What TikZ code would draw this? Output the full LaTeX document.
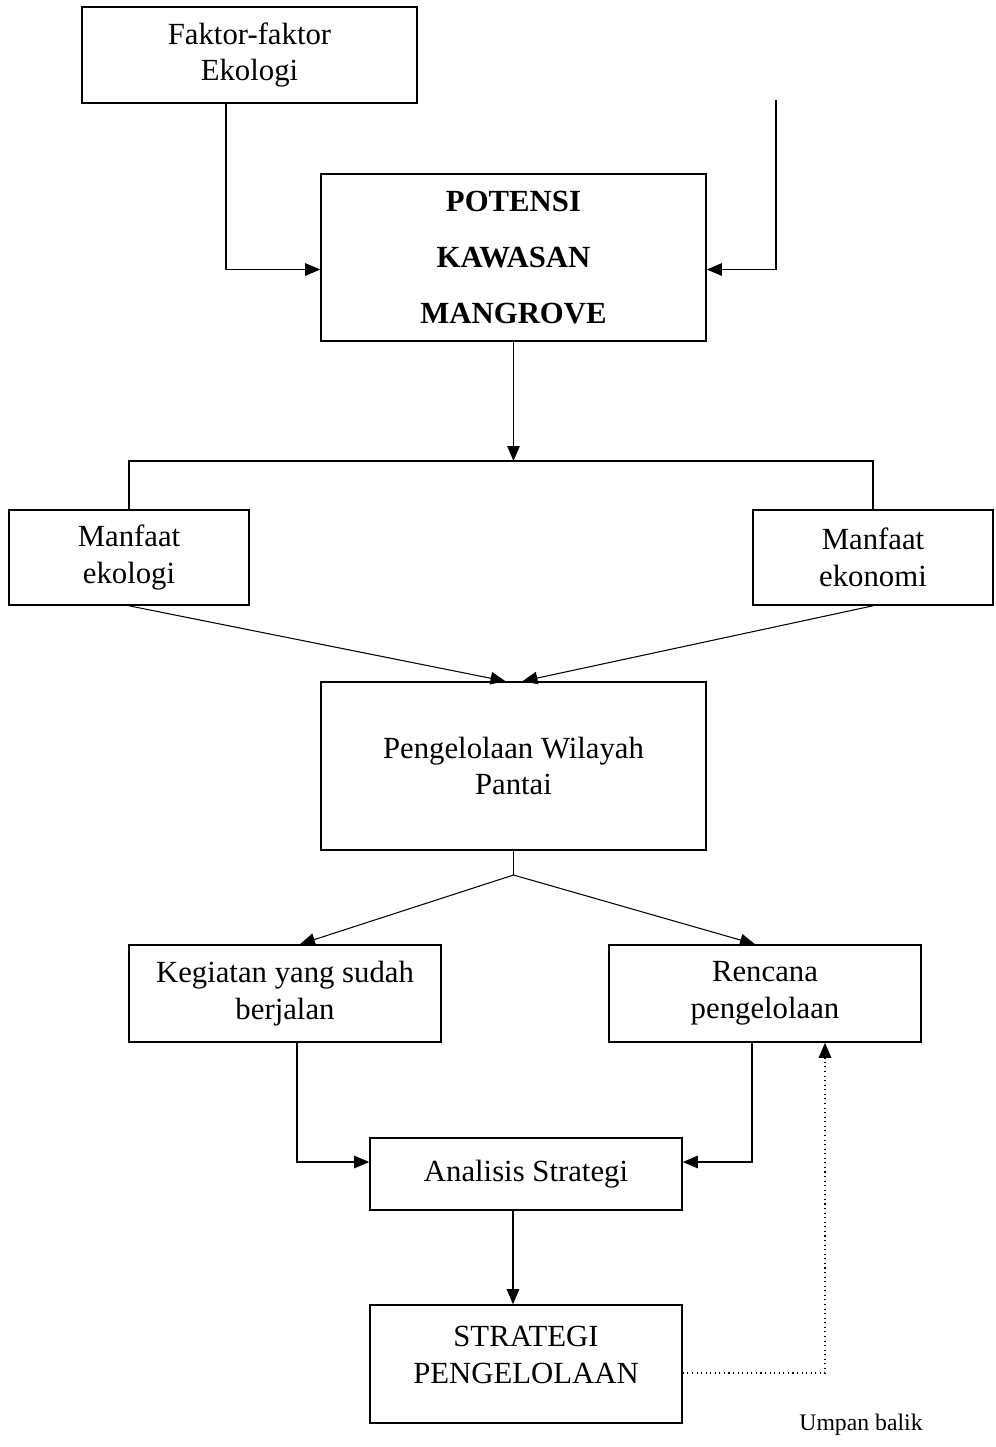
\documentclass[tikz,border=0pt]{standalone}
\usepackage{fontspec}
\setmainfont{Liberation Serif}
\usepackage{tikz}
\usetikzlibrary{arrows.meta, positioning}

\begin{document}
\begin{tikzpicture}[
  box/.style={draw=black, line width=0.9pt, fill=white, align=center,
              inner sep=0pt, font=\fontsize{17.5}{21}\selectfont},
  boldbox/.style={box, font=\fontsize{17.5}{32}\selectfont\bfseries},
  arr/.style={-{Triangle[length=0.3cm, width=0.25cm]}, line width=0.6pt},
  line/.style={line width=0.6pt},
  fb/.style={-{Triangle[length=0.3cm, width=0.25cm]}, line width=0.6pt, dotted}
]
  \useasboundingbox (0,0) rectangle (19.92,-28.94);

  \node[box, minimum width=6.7cm, minimum height=1.92cm]     (faktor)  at (4.99,-1.10)  {Faktor-faktor\\Ekologi};
  \node[boldbox, minimum width=7.7cm, minimum height=3.34cm] (potensi) at (10.27,-5.15) {POTENSI\\KAWASAN\\MANGROVE};

  \node[box, minimum width=4.8cm, minimum height=1.9cm]      (ekologi) at (2.58,-11.15) {Manfaat\\ekologi};
  \node[box, minimum width=4.8cm, minimum height=1.9cm]      (ekonomi) at (17.46,-11.15) {Manfaat\\ekonomi};

  \node[box, minimum width=7.7cm, minimum height=3.36cm]     (pantai)  at (10.27,-15.32) {Pengelolaan Wilayah\\Pantai};

  \node[box, minimum width=6.24cm, minimum height=1.94cm]    (kegiatan) at (5.70,-19.87) {Kegiatan yang sudah\\berjalan};
  \node[box, minimum width=6.24cm, minimum height=1.94cm]    (rencana)  at (15.30,-19.87) {Rencana\\pengelolaan};

  \node[box, minimum width=6.24cm, minimum height=1.44cm]    (analisis) at (10.52,-23.48) {Analisis Strategi};
  \node[box, minimum width=6.24cm, minimum height=2.36cm]    (strategi) at (10.52,-27.28) {STRATEGI\\PENGELOLAAN\\[-0.38cm]\mbox{}};

  \node[font=\fontsize{13.5}{16}\selectfont, anchor=base] (umpan) at (17.22,-28.60) {Umpan balik};

  \coordinate (masuk)  at (15.52,-2.00);
  \coordinate (cabang) at (10.27,-9.22);
  \coordinate (bagi)   at (10.27,-17.50);

  % input ke potensi
  \draw[arr] ([xshift=-0.47cm]faktor.south) |- ([yshift=-0.24cm]potensi.west);
  \draw[arr] (masuk) |- ([yshift=-0.24cm]potensi.east);

  % potensi ke manfaat
  \draw[arr] (potensi.south) -- (cabang);
  \draw[line] (ekologi.north) |- (cabang) -| (ekonomi.north);

  \draw[arr] (ekologi.south) -- ([xshift=-0.16cm]pantai.north);
  \draw[arr] (ekonomi.south) -- ([xshift=0.18cm]pantai.north);

  % pengelolaan
  \draw[line] (pantai.south) -- (bagi);
  \draw[arr] (bagi) -- ([xshift=0.30cm]kegiatan.north);
  \draw[arr] (bagi) -- ([xshift=-0.20cm]rencana.north);

  \draw[arr] ([xshift=0.24cm]kegiatan.south) |- ([yshift=0.24cm]analisis.west);
  \draw[arr] ([xshift=-0.26cm]rencana.south) |- ([yshift=0.24cm]analisis.east);
  \draw[arr] ([xshift=-0.26cm]analisis.south) -- ([xshift=-0.26cm]strategi.north);

  % umpan balik
  \draw[fb] ([yshift=-0.18cm]strategi.east) -| ([xshift=1.20cm]rencana.south);
\end{tikzpicture}
\end{document}
